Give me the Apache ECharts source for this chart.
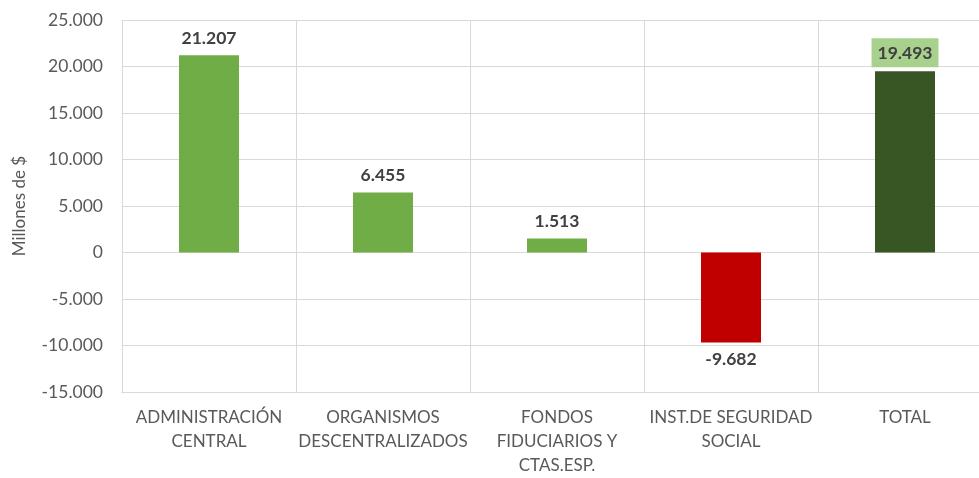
<!DOCTYPE html>
<html>
<head>
<meta charset="utf-8">
<script src="https://cdn.jsdelivr.net/npm/echarts@6/dist/echarts.min.js"></script>
<style>
  html, body { margin: 0; padding: 0; background: #fff; overflow: hidden; }
  #chart { width: 992px; height: 478px; }
</style>
</head>
<body>
<div id="chart"></div>
<script>
// data
var categories = ['ADMINISTRACIÓN\nCENTRAL', 'ORGANISMOS\nDESCENTRALIZADOS', 'FONDOS\nFIDUCIARIOS Y\nCTAS.ESP.', 'INST.DE SEGURIDAD\nSOCIAL', 'TOTAL'];
var values = [21207, 6455, 1513, -9682, 19493];
var yTicks = [-15000, -10000, -5000, 0, 5000, 10000, 15000, 20000, 25000];

function fmt(v) {
    var s = Math.abs(v).toString().replace(/\B(?=(\d{3})+(?!\d))/g, '.');
    return (v < 0 ? '-' : '') + s;
}

var fontName = 'Lato, "Open Sans", sans-serif';

// plot runs past the right edge of the picture, like the original crop
var chart = echarts.init(document.getElementById('chart'));

var barData = values.map(function (v, i) {
    var color = '#70ad47';
    if (v < 0) color = '#c00000';
    if (i === values.length - 1) color = '#375623';
    var item = {
        value: v,
        itemStyle: {color: color},
        label: {position: v < 0 ? 'bottom' : 'top'}
    };
    if (i === values.length - 1) {
        item.label.backgroundColor = '#a9d18e';
        item.label.padding = [6, 6, 5, 6];
        item.label.distance = 4;
    }
    return item;
});

var option = {
    animation: false,
    grid: {left: 122, right: 0, top: 20, bottom: 83},
    xAxis: {
        type: 'category',
        data: categories,
        axisLine: {onZero: false, lineStyle: {color: '#d9d9d9'}},
        axisTick: {show: false},
        splitLine: {show: true, lineStyle: {color: '#d9d9d9', width: 1}},
        axisLabel: {
            color: '#595959',
            fontFamily: fontName,
            fontSize: 17,
            lineHeight: 24,
            margin: 14,
            interval: 0
        }
    },
    yAxis: {
        type: 'value',
        min: yTicks[0],
        max: yTicks[yTicks.length - 1],
        interval: 5000,
        name: 'Millones de $',
        nameLocation: 'middle',
        nameRotate: 90,
        nameGap: 94,
        nameTextStyle: {color: '#595959', fontFamily: fontName, fontSize: 17},
        axisLine: {show: false},
        axisTick: {show: false},
        splitLine: {lineStyle: {color: '#d9d9d9', width: 1}},
        axisLabel: {
            color: '#595959',
            fontFamily: fontName,
            fontSize: 17.5,
            margin: 19,
            formatter: fmt
        }
    },
    series: [{
        type: 'bar',
        barWidth: 60,
        data: barData,
        label: {
            show: true,
            color: '#404040',
            fontFamily: fontName,
            fontWeight: 'bold',
            fontSize: 17.5,
            distance: 8,
            formatter: function (p) { return fmt(p.value); }
        }
    }]
};

chart.setOption(option);
</script>
</body>
</html>
